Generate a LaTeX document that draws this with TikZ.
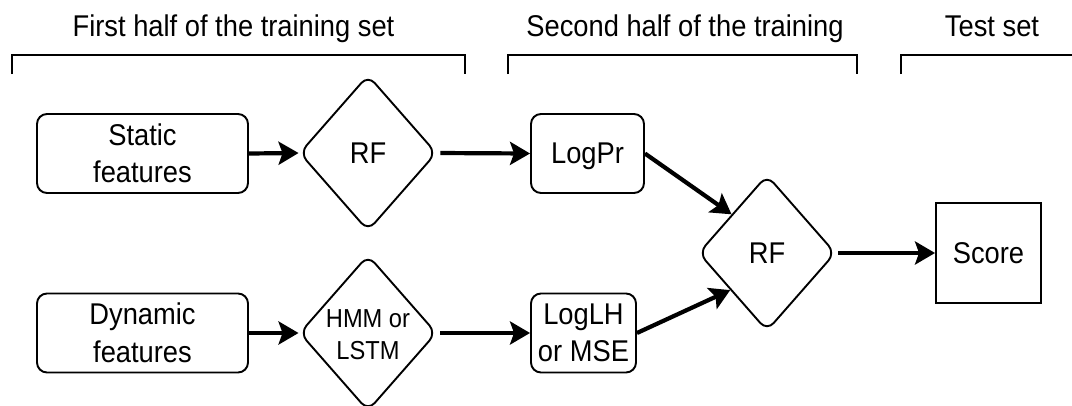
\documentclass[tikz,border=0pt]{standalone}
\usepackage{fontspec}
\setmainfont[FakeStretch=0.91]{Liberation Sans}
\usetikzlibrary{shapes.geometric,arrows.meta,calc}

\begin{document}
\begin{tikzpicture}[x=1pt,y=-1pt,
  every node/.style={inner sep=0pt, font=\fontsize{30}{37.5}\selectfont},
  box/.style={draw, line width=1.9pt, rounded corners=10pt, align=center,
              minimum height=79pt},
  diam/.style={draw, shape=diamond, line width=1.9pt, rounded corners=10pt,
               minimum width=137pt, minimum height=156pt},
  sqbox/.style={draw, line width=1.9pt, minimum width=105pt, minimum height=100pt},
  arr/.style={line width=4.2pt, -{Stealth[length=20pt,width=23pt,inset=4pt]}},
  bracket/.style={line width=1.9pt},
  heading/.style={anchor=base}
]
% canvas
\fill[white] (0,0) rectangle (1072,405);
\useasboundingbox (0,0) rectangle (1072,405);

% stage headings and their brackets
\node[heading] (h1) at (233.5,36) {First half of the training set};
\node[heading] (h2) at (685,36) {Second half of the training};
\node[heading] (h3) at (992,36) {Test set};
\draw[bracket] (12,74) -- (12,55) -- (465,55) -- (465,74);
\draw[bracket] (508,74) -- (508,55) -- (857,55) -- (857,74);
\draw[bracket] (901,74) -- (901,55) -- (1072,55);

% feature inputs
\node[box, minimum width=211pt] (static) at (142.5,153.5) {Static\\features};
\node[box, minimum width=211pt] (dynamic) at (142.5,333) {Dynamic\\features};

% first-stage models
\node[diam] (rf1) at (368,153) {};
\node (rf1t) at (368,153) [text depth=0pt] {RF};
\node[diam] (hmm) at (368,333) {};
\node[align=center, font=\fontsize{26}{32}\selectfont] (hmmt) at (368,335) {HMM or\\LSTM};

% second-stage outputs
\node[box, minimum width=113pt, text depth=0pt] (logpr) at (587.5,153.5) {LogPr};
\node[box, minimum width=105pt] (loglh) at (583.5,333) {LogLH\\or MSE};

% meta classifier and result
\node[diam] (rf2) at (767,253) {};
\node (rf2t) at (767,253) [text depth=0pt] {RF};
\node[sqbox] (score) at (988.5,253) {Score};

% connectors
\coordinate (in1) at ($(rf2.west)!0.49!(rf2.north)$);
\coordinate (in2) at ($(rf2.west)!0.47!(rf2.south)$);
\draw[arr] (static.east) -- (rf1.west);
\draw[arr] (dynamic.east) -- (hmm.west);
\draw[arr, shorten <=3pt] (rf1.east) -- (logpr.west);
\draw[arr, shorten <=3pt] (hmm.east) -- (loglh.west);
\draw[arr] (logpr.east) -- (in1);
\draw[arr] (loglh.east) -- (in2);
\draw[arr, shorten <=2pt] (rf2.east) -- (score.west);
\end{tikzpicture}
\end{document}
